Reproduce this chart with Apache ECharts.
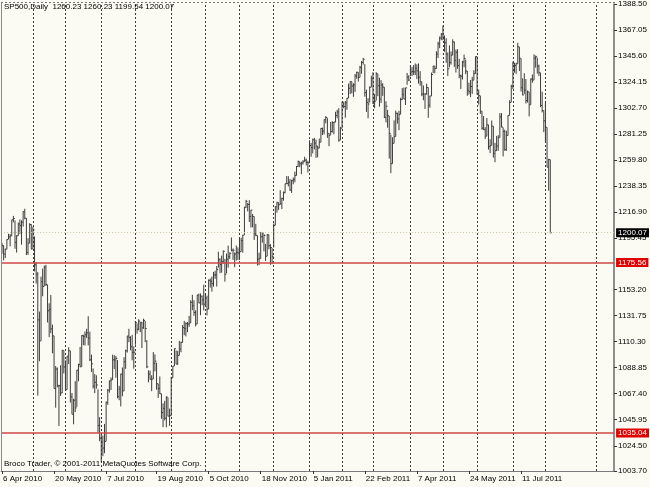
<!DOCTYPE html>
<html><head><meta charset="utf-8">
<script src="https://cdn.jsdelivr.net/npm/echarts@6/dist/echarts.min.js"></script>
<style>html,body{margin:0;padding:0;background:#fcfbf3}#c{width:650px;height:487px}</style>
</head><body><div id="c"></div>
<script>
// Daily bars, 6 Apr 2010 .. 4 Aug 2011 (one row per month)
const highs = [
1191.8,1189.6,1187.0,1194.7,1199.2,1199.0,1210.7,1213.9,1210.2,1197.9,1208.5,1211.0,1210.3,1217.8,1219.8,1212.1,1195.6,1207.9,1207.1,
1205.0,1197.0,1175.9,1167.6,1135.1,1163.9,1170.5,1172.9,1173.6,1157.2,1141.9,1148.7,1124.3,1115.1,1090.2,1089.0,1074.8,1090.8,1103.5,1102.9,
1094.8,1098.4,1105.7,1102.8,1068.0,1063.2,1077.7,1087.0,1092.0,1105.9,1115.6,1116.0,1118.7,1120.9,1131.2,1118.5,1099.6,1088.2,1083.6,1082.6,1071.0,1048.1,
1033.6,1032.9,1042.5,1060.9,1071.3,1078.2,1080.8,1099.5,1099.1,1098.5,1095.1,1073.9,1083.9,1089.0,1097.5,1103.7,1115.0,1120.9,1114.7,1115.9,1106.4,
1127.3,1125.4,1128.8,1126.6,1126.6,1129.2,1127.3,1111.6,1086.7,1086.4,1082.6,1101.7,1099.8,1093.0,1075.6,1081.6,1067.4,1059.4,1061.5,1065.2,1064.3,1055.1,
1081.3,1090.1,1104.5,1103.1,1102.6,1110.9,1110.3,1123.9,1127.4,1126.3,1126.4,1131.5,1144.4,1148.9,1144.4,1136.1,1148.9,1149.9,1150.0,1148.3,1157.2,
1150.3,1148.2,1161.6,1162.3,1163.9,1167.7,1168.7,1172.6,1184.4,1178.9,1181.2,1185.5,1178.5,1182.9,1189.4,1183.9,1196.1,1187.1,1183.8,1189.5,1187.9,
1195.8,1195.9,1198.3,1221.3,1227.1,1224.6,1226.8,1218.8,1215.5,1213.5,1207.4,1197.8,1183.6,1200.7,1200.3,1198.9,1190.8,1198.9,1198.6,1190.6,1187.4,
1207.6,1221.9,1225.6,1225.0,1235.1,1228.9,1234.0,1240.4,1246.7,1246.6,1244.3,1243.7,1245.6,1250.4,1255.0,1259.4,1258.6,1258.6,1259.9,1262.6,1261.1,1259.3,
1276.2,1274.1,1277.6,1278.2,1276.8,1271.5,1277.6,1286.2,1286.6,1293.2,1296.1,1294.4,1282.0,1291.3,1291.9,1291.3,1299.7,1301.3,1302.7,1287.2,
1308.0,1307.6,1308.6,1311.0,1322.9,1324.9,1324.6,1323.2,1330.8,1332.6,1332.3,1337.6,1341.5,1344.1,1338.9,1317.9,1310.9,1320.6,1329.4,
1332.3,1314.4,1332.3,1331.1,1327.7,1325.7,1323.2,1320.0,1308.4,1301.3,1296.4,1280.9,1278.7,1292.6,1300.6,1299.0,1300.5,1311.3,1319.2,1319.7,1319.4,1331.7,1329.8,
1337.9,1336.7,1338.2,1339.5,1338.8,1339.5,1333.2,1324.5,1321.4,1314.5,1322.9,1319.7,1312.9,1332.0,1337.5,1337.5,1349.6,1357.4,1361.7,1364.6,
1370.6,1362.6,1360.3,1348.6,1354.4,1349.4,1359.4,1357.6,1351.0,1351.2,1343.3,1330.4,1341.7,1346.8,1342.6,1333.3,1323.7,1325.9,1328.5,1334.0,1345.2,
1345.2,1318.0,1312.9,1300.2,1296.2,1287.0,1294.5,1289.0,1277.1,1292.5,1287.9,1274.1,1279.8,1280.4,1298.6,1298.6,1286.8,1284.9,1284.1,1296.9,1309.2,1322.0,
1341.0,1340.0,1340.1,1356.5,1353.2,1343.8,1327.2,1331.5,1326.7,1317.2,1316.1,1327.2,1330.4,1347.0,1346.1,1344.3,1338.5,1331.8,1316.3,1300.7,
1307.4,1286.9,1261.0,1260.2
];
const lows = [
1182.8,1177.3,1179.1,1186.4,1194.7,1188.8,1197.3,1208.5,1186.8,1183.7,1197.5,1198.9,1190.2,1205.1,1211.1,1181.6,1181.8,1191.4,1186.3,
1186.7,1168.1,1158.2,1065.8,1094.2,1110.9,1147.7,1155.9,1156.1,1126.1,1114.0,1117.2,1100.7,1071.6,1055.9,1072.7,1040.8,1065.6,1067.9,1084.1,
1069.9,1070.7,1091.8,1060.1,1050.5,1042.2,1052.3,1056.5,1077.6,1089.3,1089.6,1107.4,1107.1,1113.4,1107.2,1094.2,1085.3,1071.7,1067.9,1071.5,1035.2,1028.3,
1010.9,1015.9,1018.4,1028.1,1058.2,1068.3,1070.4,1078.8,1087.7,1080.5,1063.6,1062.0,1056.9,1065.3,1069.6,1087.9,1101.3,1109.8,1103.1,1094.9,1088.0,
1107.7,1116.8,1119.5,1118.2,1105.0,1120.9,1109.8,1088.5,1076.7,1079.0,1069.5,1079.4,1085.8,1070.7,1063.9,1067.1,1046.7,1039.8,1045.4,1039.7,1048.8,1040.9,
1049.3,1080.3,1090.2,1091.8,1091.2,1098.9,1101.5,1109.6,1115.6,1114.6,1118.1,1122.4,1125.6,1136.2,1131.6,1122.8,1124.8,1142.0,1132.1,1140.3,1136.1,
1139.4,1131.9,1137.0,1154.9,1151.4,1155.6,1162.0,1155.7,1171.3,1166.7,1167.1,1174.6,1159.7,1166.7,1171.2,1178.3,1184.7,1177.7,1171.7,1177.1,1177.7,
1177.6,1184.4,1183.6,1198.3,1220.3,1217.6,1208.9,1204.3,1204.5,1194.1,1197.2,1173.0,1173.3,1178.6,1191.9,1184.6,1176.7,1180.7,1186.4,1173.6,1174.1,
1187.8,1206.1,1216.6,1218.9,1223.3,1219.5,1226.4,1232.6,1240.3,1238.2,1234.6,1232.8,1239.9,1241.5,1247.1,1254.2,1254.0,1248.3,1256.2,1258.5,1255.5,1249.6,
1257.6,1262.7,1265.4,1268.7,1261.7,1262.2,1269.6,1274.6,1280.5,1281.1,1290.2,1278.2,1271.3,1280.7,1282.5,1281.1,1291.0,1294.4,1275.1,1276.3,
1286.1,1302.6,1294.8,1301.4,1310.9,1314.3,1314.9,1312.0,1316.1,1326.9,1324.6,1328.0,1331.0,1338.6,1312.1,1299.6,1294.3,1307.3,1320.0,
1306.1,1302.6,1309.0,1312.6,1303.9,1306.9,1312.8,1294.5,1291.0,1286.6,1261.1,1249.1,1256.9,1273.7,1279.2,1289.9,1284.5,1297.7,1309.5,1310.2,1305.3,1321.9,1325.0,
1328.9,1329.1,1330.0,1330.0,1326.6,1322.9,1321.1,1312.6,1309.2,1302.0,1313.7,1294.7,1303.0,1312.7,1331.5,1331.5,1335.2,1344.0,1352.1,1358.7,
1358.6,1349.1,1340.0,1329.2,1336.4,1338.6,1346.3,1336.7,1332.0,1335.1,1327.3,1318.5,1326.3,1336.4,1330.7,1312.9,1313.9,1311.8,1314.4,1325.7,1331.1,
1313.7,1305.6,1297.9,1284.9,1284.7,1277.4,1279.6,1268.5,1265.6,1272.0,1261.9,1258.1,1267.4,1267.6,1278.4,1286.8,1262.9,1267.5,1267.5,1280.1,1296.7,1307.6,
1318.5,1331.9,1330.9,1339.2,1333.2,1316.4,1313.3,1314.4,1306.5,1307.3,1295.9,1305.4,1323.7,1325.8,1336.0,1331.1,1329.1,1303.5,1299.2,1282.9,
1274.7,1254.0,1234.6,1199.5
];
const closes = [
1189.4,1182.5,1186.4,1194.4,1196.5,1197.3,1210.7,1211.7,1192.1,1197.5,1207.2,1205.9,1208.7,1217.3,1212.1,1183.7,1191.4,1206.8,1186.7,
1202.3,1173.6,1165.9,1128.2,1110.9,1159.7,1155.8,1171.7,1157.4,1135.7,1136.9,1120.8,1115.1,1071.6,1087.7,1073.7,1074.0,1068.0,1103.1,1089.4,
1070.7,1098.4,1102.8,1064.9,1050.5,1062.0,1055.7,1086.8,1091.6,1089.6,1115.2,1114.6,1116.0,1117.5,1113.2,1095.3,1092.0,1073.7,1076.8,1074.6,1041.2,1030.7,
1027.4,1022.6,1028.1,1060.3,1070.3,1078.0,1078.8,1095.3,1095.2,1096.5,1064.9,1071.3,1083.5,1069.6,1093.7,1102.7,1115.0,1113.8,1106.1,1101.5,1101.6,
1125.9,1120.5,1127.2,1125.8,1121.6,1127.8,1121.1,1089.5,1083.6,1079.3,1079.4,1092.5,1094.2,1075.6,1071.7,1067.4,1051.9,1055.3,1047.2,1064.6,1048.9,1049.3,
1080.3,1090.1,1104.5,1091.8,1098.9,1104.2,1109.6,1121.9,1121.1,1125.1,1124.7,1125.6,1142.7,1139.8,1134.3,1124.8,1148.7,1142.2,1147.7,1144.7,1141.2,
1146.2,1137.0,1160.8,1160.0,1158.1,1165.2,1165.3,1169.8,1178.1,1173.8,1176.2,1184.7,1165.9,1178.2,1180.3,1183.1,1185.6,1185.6,1182.5,1183.8,1183.3,
1184.4,1193.6,1198.0,1221.1,1225.9,1223.3,1213.4,1218.7,1213.5,1199.2,1197.8,1178.3,1178.6,1196.7,1199.7,1197.8,1180.7,1198.4,1189.4,1187.8,1180.6,
1206.1,1221.5,1224.7,1223.1,1223.8,1228.3,1233.0,1240.4,1240.5,1241.6,1235.2,1242.9,1243.9,1247.1,1254.6,1258.8,1256.8,1257.5,1258.5,1259.8,1257.9,1257.6,
1271.9,1270.2,1276.6,1273.9,1271.5,1269.8,1274.5,1286.0,1283.8,1293.2,1295.0,1281.9,1280.3,1283.4,1290.8,1291.2,1296.6,1299.5,1276.3,1286.1,
1307.6,1304.0,1307.1,1310.9,1319.1,1324.6,1320.9,1321.9,1329.2,1332.3,1328.0,1336.3,1340.4,1343.0,1315.4,1307.4,1306.1,1319.9,1327.2,
1306.3,1308.4,1331.0,1321.2,1310.1,1321.8,1320.0,1295.1,1304.3,1296.4,1281.9,1256.9,1273.7,1279.2,1298.4,1293.8,1297.5,1309.7,1313.8,1310.2,1319.4,1328.3,1325.8,
1332.4,1332.9,1332.6,1335.5,1333.5,1328.2,1324.5,1314.2,1314.4,1314.5,1319.7,1305.1,1312.6,1330.4,1337.4,1335.3,1347.2,1355.7,1360.5,1363.6,
1361.2,1356.6,1347.3,1335.1,1340.2,1346.3,1357.2,1342.1,1348.7,1337.8,1329.5,1329.0,1340.7,1343.6,1333.3,1317.4,1316.3,1320.5,1325.7,1331.1,1345.2,
1314.6,1312.9,1300.2,1286.2,1284.9,1279.6,1289.0,1271.0,1271.8,1287.9,1265.4,1267.6,1271.5,1278.4,1295.5,1287.1,1283.5,1268.5,1280.1,1296.7,1307.4,1320.6,
1339.7,1337.9,1339.2,1353.2,1343.8,1319.5,1313.6,1317.7,1308.9,1316.1,1305.4,1326.7,1325.8,1343.8,1345.0,1337.4,1331.9,1304.9,1300.7,1292.3,
1286.9,1254.1,1260.3,1200.1
];
// time-scale labels (bar index -> text)
const xTickIndex  = [0, 32, 64, 95, 127, 159, 191, 223, 255, 287, 319];
const xTickLabels = ['6 Apr 2010','20 May 2010','7 Jul 2010','19 Aug 2010','5 Oct 2010','18 Nov 2010',
                     '5 Jan 2011','22 Feb 2011','7 Apr 2011','24 May 2011','11 Jul 2011'];
// vertical grid separators (bar index of month start)
const gridIndex = [19,39,61,82,104,125,146,167,189,209,228,251,271,292,314,334,365];
// price scale labels
const yTickValues = [1388.50,1367.05,1345.60,1324.15,1302.70,1281.25,1259.80,1238.35,1216.90,1195.45,
                     1153.20,1131.75,1110.30,1088.85,1067.40,1045.95,1024.50,1003.70];
const lastPrice = 1200.07;
const levelLines = [1175.56, 1035.04];
const titleText = 'SP500,Daily  1260.23 1260.23 1199.54 1200.07';
const footerText = 'Broco Trader, \u00A9 2001-2011 MetaQuotes Software Corp.';

const FONT = '"Liberation Sans", Arial, sans-serif';
const chart = echarts.init(document.getElementById('c'), null, {renderer: 'canvas'});
const barData = highs.map((h, i) => [i, h, lows[i], closes[i]]);

chart.setOption({
  animation: false,
  backgroundColor: '#fcfbf3',
  grid: {left: 1, right: 33, top: 2, bottom: 16},
  xAxis: {
    type: 'value', min: -0.55, max: 376.2,
    axisLine: {show: true, onZero: false, lineStyle: {color: '#7a7a7a', width: 1}},
    axisTick: {show: true, customValues: xTickIndex, length: 3, lineStyle: {color: '#333'}},
    axisLabel: {customValues: xTickIndex, formatter: v => xTickLabels[xTickIndex.indexOf(v)] || '',
      align: 'left', fontSize: 8, color: '#000', margin: 4, fontFamily: FONT, padding: [0,0,0,1]},
    splitLine: {show: false}
  },
  yAxis: {
    type: 'value', position: 'right', min: 1003.7, max: 1388.5,
    axisLine: {show: true, onZero: false, lineStyle: {color: '#6a6a6a', width: 1.5}},
    axisTick: {show: true, customValues: yTickValues, length: 3, lineStyle: {color: '#333'}},
    axisLabel: {customValues: yTickValues, formatter: v => v.toFixed(2), fontSize: 8, color: '#000',
      margin: 4, fontFamily: FONT},
    splitLine: {show: false}
  },
  graphic: [
    {type: 'line', shape: {x1: 1.5, y1: 2, x2: 1.5, y2: 471}, style: {stroke: '#8a8a8a', lineWidth: 1}, z: 100},
    {type: 'line', shape: {x1: 1, y1: 2.5, x2: 617, y2: 2.5}, style: {stroke: '#777', lineWidth: 1, lineDash: [2, 2]}, z: 100},
    {type: 'text', x: 4, y: 3, style: {text: titleText, font: '8px ' + FONT, fill: '#000', textVerticalAlign: 'top'}, z: 100},
    {type: 'text', x: 4, y: 460, style: {text: footerText, font: '8px ' + FONT, fill: '#000', textVerticalAlign: 'top'}, z: 100}
  ],
  series: [
    {
      type: 'line', data: [], z: 1, silent: true,
      markLine: {
        silent: true, symbol: ['none', 'none'], animation: false,
        label: {show: false},
        lineStyle: {color: '#3a3a3a', width: 1, type: [2, 2]},
        data: gridIndex.map(v => ({xAxis: v}))
      }
    },
    {
      type: 'custom', z: 2, data: barData, silent: true,
      encode: {x: 0, y: [1, 2, 3]},
      renderItem: function (params, api) {
        const i = api.value(0);
        const hi = api.coord([i, api.value(1)]);
        const lo = api.coord([i, api.value(2)]);
        const cl = api.coord([i, api.value(3)]);
        const x = hi[0];
        return {type: 'group', children: [
          {type: 'line', shape: {x1: x, y1: hi[1], x2: x, y2: lo[1]}, style: {stroke: '#3c3c3c', lineWidth: 1}},
          {type: 'line', shape: {x1: x, y1: cl[1], x2: x + 1.5, y2: cl[1]}, style: {stroke: '#3c3c3c', lineWidth: 1}}
        ]};
      }
    },
    {
      type: 'line', data: [], z: 3, silent: true,
      markLine: {
        silent: true, symbol: ['none', 'none'], animation: false,
        data: [
          {yAxis: lastPrice, lineStyle: {color: '#c8c4a8', width: 1, type: [1, 2]},
           label: {show: true, position: 'end', distance: 2, formatter: lastPrice.toFixed(2), color: '#fff',
             backgroundColor: '#000', padding: [1, 2, 0, 2], fontSize: 8, fontFamily: FONT}},
          ...levelLines.map(v => ({yAxis: v, lineStyle: {color: '#d04848', width: 1.5, type: 'solid'},
           label: {show: true, position: 'end', distance: 2, formatter: v.toFixed(2), color: '#fff',
             backgroundColor: '#e00000', padding: [1, 2, 0, 2], fontSize: 8, fontFamily: FONT}}))
        ]
      }
    }
  ]
});
</script>
</body></html>
